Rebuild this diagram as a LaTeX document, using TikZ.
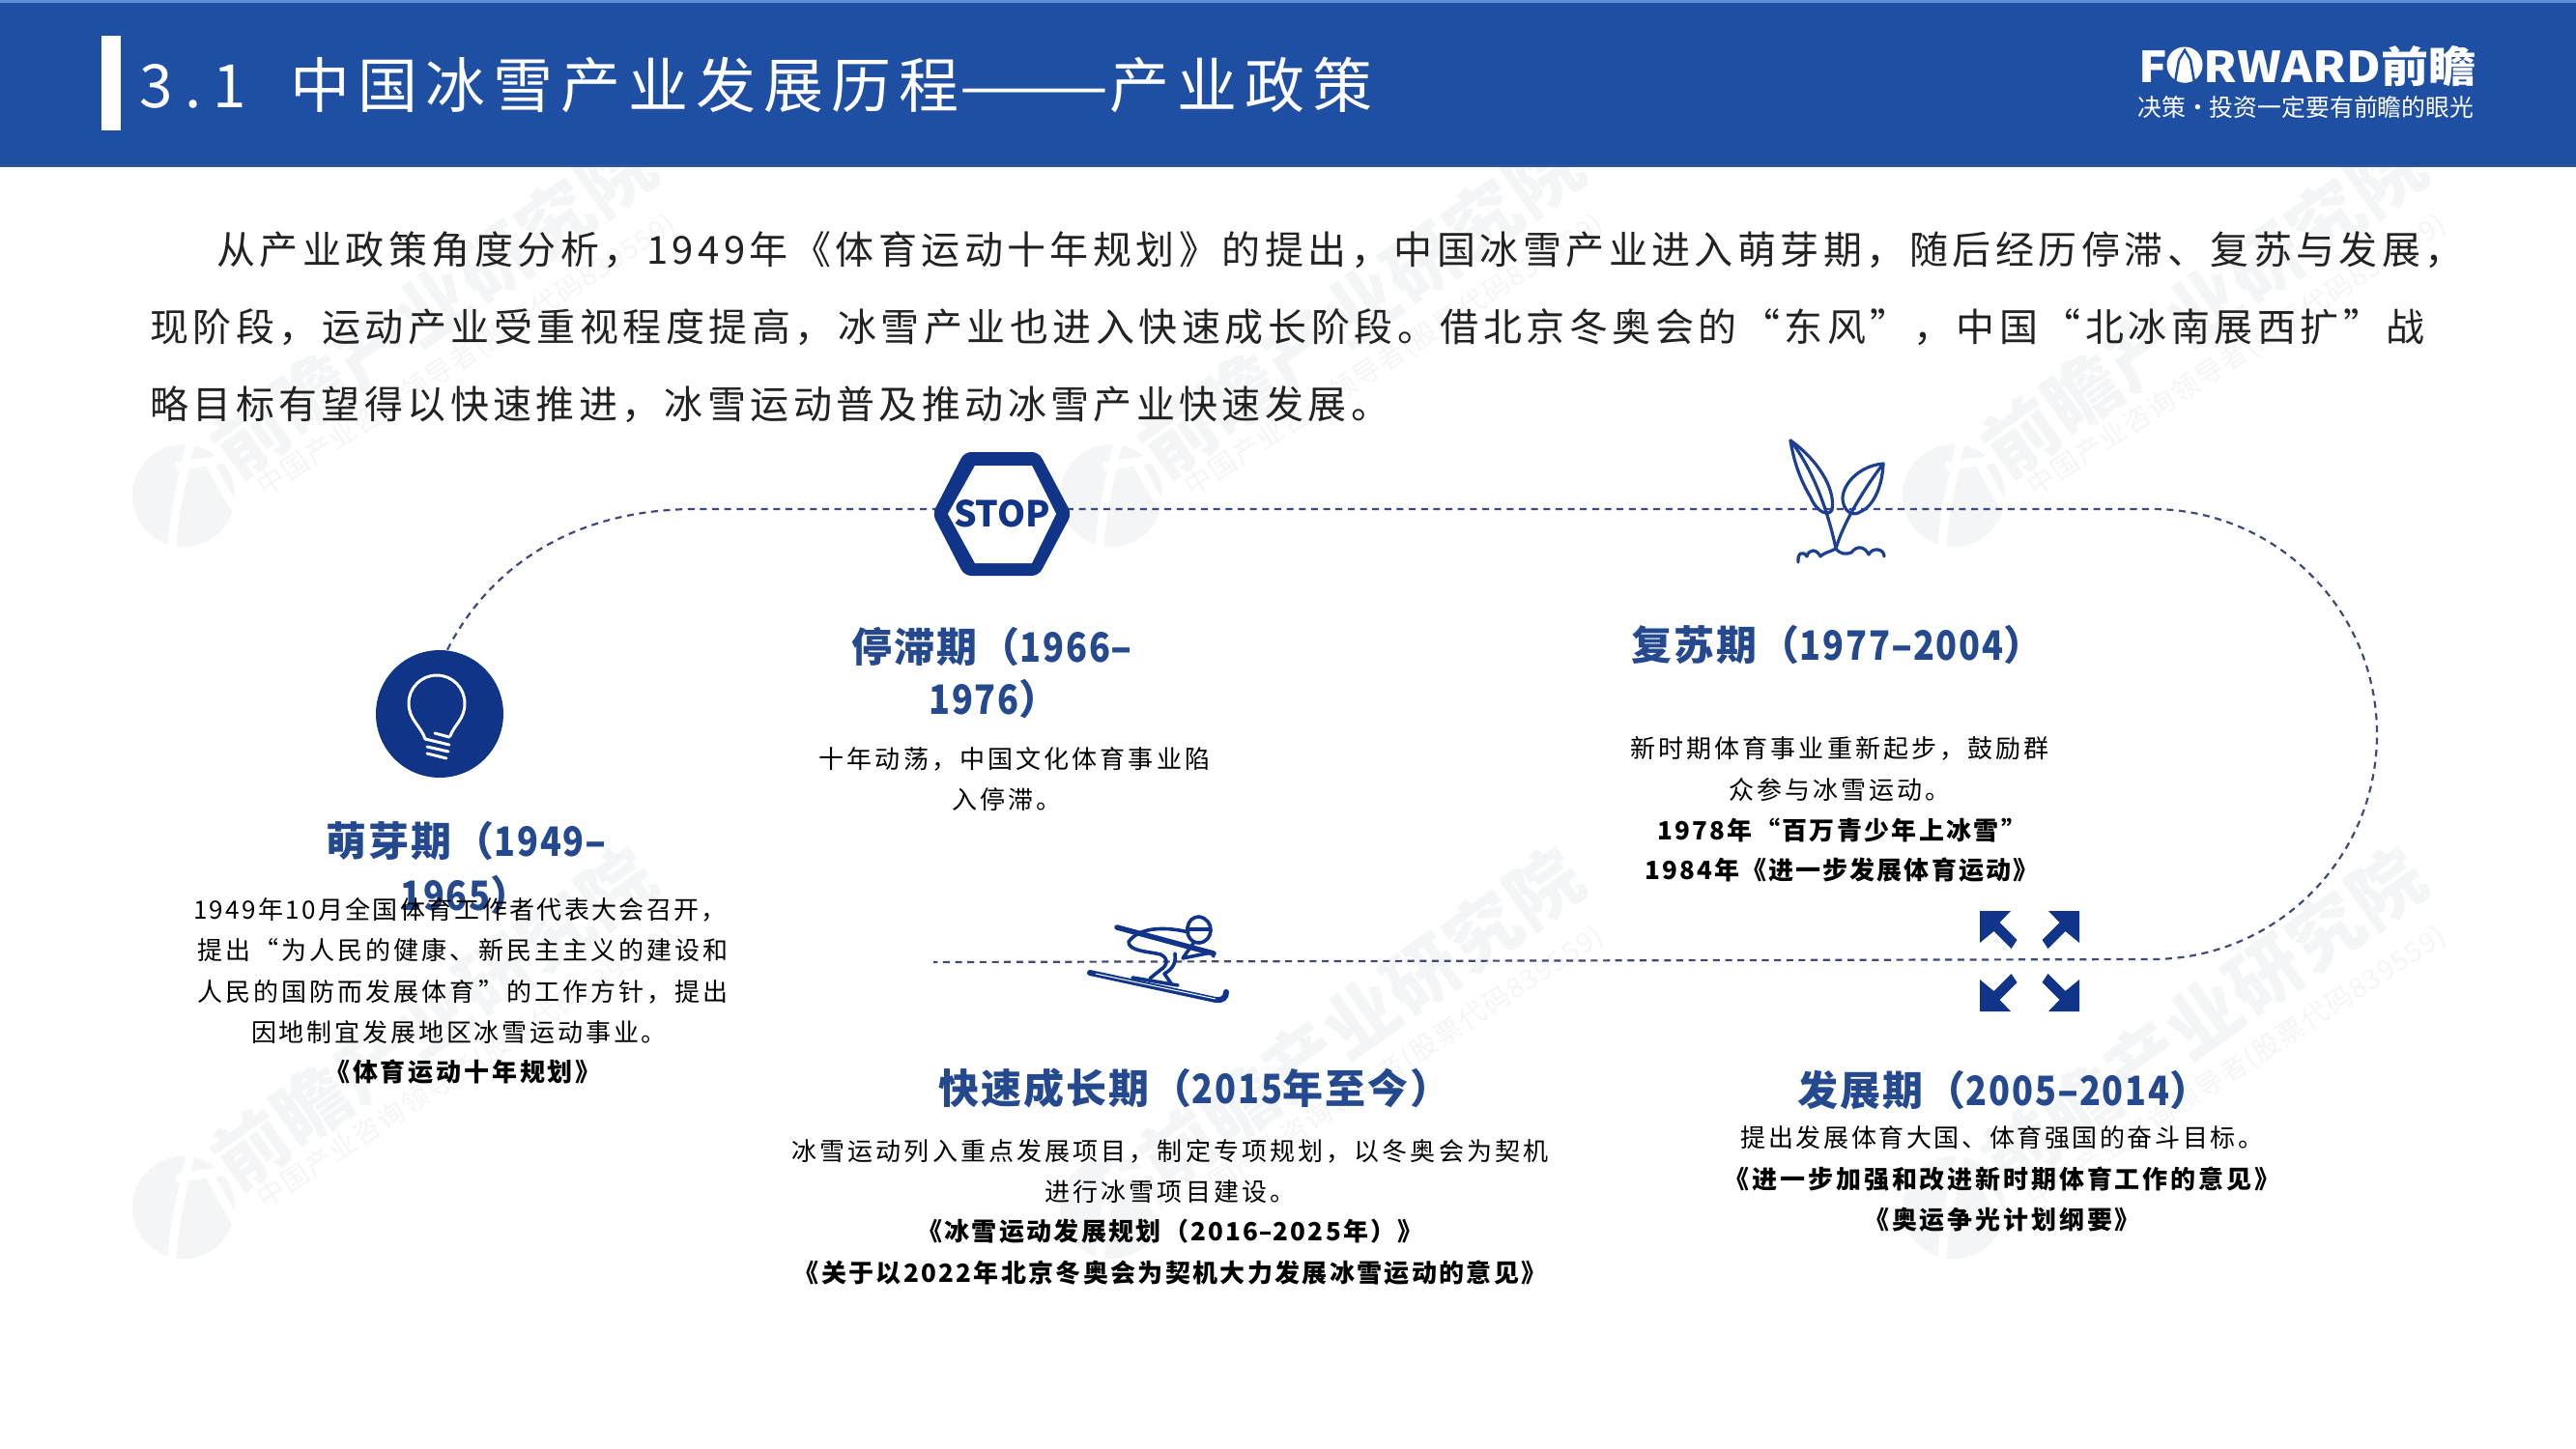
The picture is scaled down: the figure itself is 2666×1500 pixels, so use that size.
\documentclass[tikz,border=0pt]{standalone}
\usepackage{fontspec}
\usepackage{graphicx}
\setmainfont{Noto Sans CJK SC}
\newfontfamily\cj{Noto Sans CJK SC}
\usetikzlibrary{calc}
\definecolor{band}{HTML}{1E4FA3}
\definecolor{bandtop}{HTML}{5C8FD6}
\definecolor{bandbot}{HTML}{2A5694}
\definecolor{headc}{HTML}{24498F}
\definecolor{iconc}{HTML}{0F3488}
\definecolor{plantc}{HTML}{1D3F92}
\definecolor{dashc}{HTML}{3D4A7C}
\definecolor{wm}{HTML}{F4F5F7}
\definecolor{bodyc}{HTML}{222222}
\newcommand{\fc}{^^^^ff0c}
\newcommand{\lp}{^^^^ff08}
\newcommand{\rp}{^^^^ff09}
% font size in reference pixels (1px = 0.02cm = 0.56906pt)
\newcommand{\fpx}[2]{\fontsize{\dimexpr#1pt*569/1000\relax}{\dimexpr#1pt*569/1000\relax}\selectfont\addfontfeature{LetterSpace=#2}}
% \tl{name}{x}{y centre}{anchor}{size}{spacing}{colour+weight}{text}
\newcommand{\tl}[8]{\node[anchor=base #4,inner sep=0pt,text=#7] (#1) at (#2,{#3+0.38*#5}) {\fpx{#5}{#6}#8};}
\newcommand{\lh}{\scalebox{1.5}[1]{-}}
\newcommand{\dg}[1]{\scalebox{0.86}[1]{#1}}
\tikzset{
  dashline/.style={draw=dashc,line width=2.2*0.569pt,dash pattern=on 4pt off 3.2pt},
  plant/.style={draw=plantc,line width=3.2*0.569pt,line cap=round,line join=round},
  skistroke/.style={draw=iconc,line width=3.6*0.569pt,line cap=round,line join=round},
  bulbline/.style={draw=white,line width=3*0.569pt,line cap=round,line join=round}
}
\newcommand{\wmark}[3]{%
 \begin{scope}[shift={(#1,#2)}]
  \fill[wm] (0,0) circle[radius=53];
  \draw[white,line width=9*0.569pt] (8,-60) .. controls (0,-20) and (-12,20) .. (-12,60);
  \draw[white,line width=9*0.569pt] (-8,-30) -- (55,-40);
  \draw[white,line width=9*0.569pt] (25,-36) -- (60,25);
  \node[anchor=base west,inner sep=0pt,text=wm,rotate=35.5] (wma#3) at (55,-15) {\fpx{76}{2}\bfseries 前瞻产业研究院};
  \node[anchor=base west,inner sep=0pt,text=wm,rotate=33] (wmb#3) at (84,2) {\fpx{28}{6}中国产业咨询领导者(股票代码839559)};
 \end{scope}}
\begin{document}
\begin{tikzpicture}[x=0.02cm,y=-0.02cm]
\useasboundingbox (0,0) rectangle (2666,1500);
\fill[white] (0,0) rectangle (2666,1500);
% watermarks
\wmark{190}{513}{a}
\wmark{1150}{513}{b}
\wmark{2022}{513}{c}
\wmark{190}{1250}{d}
\wmark{1150}{1250}{e}
\wmark{2022}{1250}{f}
% header
\fill[band] (0,0) rectangle (2666,173);
\fill[bandtop] (0,0) rectangle (2666,3);
\fill[bandbot] (0,170) rectangle (2666,173);
\fill[white] (105,37) rectangle (125,135);
\tl{ttlnum}{144}{88}{west}{62}{20}{white}{3.1}
\tl{ttl}{300}{88}{west}{62}{13}{white}{中国冰雪产业发展历程\scalebox{1.5}[1]{——}产业政策}
\node[anchor=base west,inner sep=0pt,text=white] (logoa) at (2213,86) {\resizebox{349\dimexpr0.569pt\relax}{38\dimexpr0.569pt\relax}{\fpx{40}{0}\bfseries FORWARD前瞻}};
\fill[white] (2261,67) circle[radius=18.5];
\draw[band,line width=2.5*0.569pt] (2251,85) -- (2255,62) -- (2261,52) -- (2267,62) -- (2271,85);
\node[anchor=base west,inner sep=0pt,text=white] (logob) at (2212,121) {\resizebox{348\dimexpr0.569pt\relax}{!}{\fpx{24}{0}决策·投资一定要有前瞻的眼光}};
% body
\tl{ba}{224}{258}{west}{40}{11.2}{bodyc}{从产业政策角度分析\fc{}1949年《体育运动十年规划》的提出\fc{}中国冰雪产业进入萌芽期\fc{}随后经历停滞、复苏与发展\fc{}}
\tl{bb}{155}{338}{west}{40}{11.3}{bodyc}{现阶段\fc{}运动产业受重视程度提高\fc{}冰雪产业也进入快速成长阶段。借北京冬奥会的“东风”\fc{}中国“北冰南展西扩”战}
\tl{bc}{155}{418}{west}{40}{11}{bodyc}{略目标有望得以快速推进\fc{}冰雪运动普及推动冰雪产业快速发展。}
% bulb circle
\node[circle,fill=iconc,minimum size=2.64cm,inner sep=0pt] (bulb) at (455,739) {};
\coordinate (skiend) at (966,996);
\draw[dashline] (bulb.north) ++(8,0) .. controls (505,590) and (590,527) .. (720,527) -- (2227,527) arc[start angle=-90,end angle=90,radius=233] -- (skiend);
% bulb glyph
\draw[bulbline] (440,765) .. controls (436,752) and (423,745) .. (423,728) arc[start angle=180,end angle=360,radius=29] .. controls (481,745) and (470,750) .. (466,762);
\draw[bulbline] (450,759) -- (465,763);
\draw[bulbline] (440,765) -- (465,771);
\draw[bulbline] (442,773) -- (464,778);
\draw[bulbline] (442,780) -- (462,785);
% stop sign
\fill[iconc,rounded corners=4pt] (998,468) -- (1075,468) -- (1109,532) -- (1075,596) -- (998,596) -- (965,532) -- cycle;
\fill[white] (1009,482) -- (1068,482) -- (1093,532) -- (1068,583) -- (1009,583) -- (981,532) -- cycle;
\node[inner sep=0pt,text=iconc] (stoptxt) at (1037,532) {\resizebox{100\dimexpr0.569pt\relax}{28\dimexpr0.569pt\relax}{\fpx{38}{0}\bfseries STOP}};
% plant
\draw[plant] (1853,456) .. controls (1880,475) and (1900,505) .. (1896,528) .. controls (1892,535) and (1880,530) .. (1874,515) .. controls (1862,495) and (1856,475) .. (1853,456) -- cycle;
\draw[plant] (1853,456) .. controls (1872,480) and (1890,520) .. (1900,568);
\draw[plant] (1949,480) .. controls (1925,482) and (1908,500) .. (1907,515) .. controls (1907,530) and (1918,535) .. (1925,530) .. controls (1938,525) and (1948,505) .. (1949,480) -- cycle;
\draw[plant] (1949,480) .. controls (1930,505) and (1908,540) .. (1900,568);
\draw[plant] (1861,582) .. controls (1860,572) and (1866,570) .. (1870,576) .. controls (1872,568) and (1880,568) .. (1884,576) .. controls (1888,572) and (1892,572) .. (1900,568) .. controls (1905,574) and (1910,574) .. (1916,572) .. controls (1922,564) and (1930,566) .. (1934,574) .. controls (1938,566) and (1950,568) .. (1950,576);
% skier
\draw[iconc,line width=5.5*0.569pt,line cap=round] (1156,960) -- (1256,987);
\draw[skistroke,fill=white] (1241,949) .. controls (1258,952) and (1256,975) .. (1241,976) .. controls (1232,976) and (1228,968) .. (1229,960) .. controls (1230,953) and (1235,949) .. (1241,949) -- cycle;
\draw[skistroke] (1230,962) -- (1252,962);
\draw[skistroke] (1230,965) .. controls (1210,960) and (1180,958) .. (1168,975) .. controls (1168,985) and (1190,985) .. (1201,988) .. controls (1210,992) and (1208,1000) .. (1201,1004) -- (1190,1013);
\draw[skistroke] (1216,987) .. controls (1218,1000) and (1210,1005) .. (1205,1008) -- (1212,1018);
\draw[skistroke] (1236,975) -- (1224,992) -- (1254,986) -- (1256,990);
\draw[skistroke] (1172,1012) -- (1219,1020);
\draw[iconc,line width=6*0.569pt,line cap=round] (1128,1007) -- (1258,1035) .. controls (1265,1036) and (1269,1033) .. (1269,1027);
\draw[white,line width=1*0.569pt] (1134,1008) -- (1258,1034);
% arrows
\begin{scope}[shift={(2100.5,995)}]
\foreach \sx/\sy in {1/1,-1/1,1/-1,-1/-1}{
 \fill[iconc,xscale=\sx,yscale=\sy] (-51.5,-52) -- (-19.5,-52) -- (-31,-40) -- (-13,-22) -- (-19,-13) -- (-37,-31) -- (-51.5,-19) -- cycle;
}
\end{scope}
% headings
\tl{ha}{337}{871}{west}{42}{5}{headc}{\bfseries 萌芽期\lp\dg{1949}\lh}
\tl{hab}{482}{927}{}{42}{5}{headc}{\bfseries \dg{1965}\rp}
\tl{hb}{881}{670}{west}{42}{5}{headc}{\bfseries 停滞期\lp\dg{1966}\lh}
\tl{hbb}{1029}{724}{}{42}{5}{headc}{\bfseries \dg{1976}\rp}
\tl{hc}{1688}{668}{west}{42}{5}{headc}{\bfseries 复苏期\lp\dg{1977}\lh\dg{2004}\rp}
\tl{hd}{971}{1127}{west}{42}{5}{headc}{\bfseries 快速成长期\lp\dg{2015}年至今\rp}
\tl{he}{1860}{1129}{west}{42}{5}{headc}{\bfseries 发展期\lp\dg{2005}\lh\dg{2014}\rp}
% details
\tl{da}{476}{942}{}{26}{9}{black}{1949年10月全国体育工作者代表大会召开\fc{}}
\tl{db}{479}{984}{}{26}{12}{black}{提出“为人民的健康、新民主主义的建设和}
\tl{dc}{479}{1027}{}{26}{12}{black}{人民的国防而发展体育”的工作方针\fc{}提出}
\tl{dd}{475}{1069}{}{26}{11}{black}{因地制宜发展地区冰雪运动事业。}
\tl{de}{479}{1110}{}{26}{11}{black}{\bfseries《体育运动十年规划》}
\tl{ea}{1050}{786}{}{26}{12}{black}{十年动荡\fc{}中国文化体育事业陷}
\tl{eb}{1042}{828}{}{26}{12}{black}{入停滞。}
\tl{fa}{1904}{775}{}{26}{12}{black}{新时期体育事业重新起步\fc{}鼓励群}
\tl{fb}{1904}{818}{}{26}{12}{black}{众参与冰雪运动。}
\tl{fc}{1906}{860}{}{26}{9}{black}{\bfseries 1978年“百万青少年上冰雪”}
\tl{fd}{1906}{901}{}{26}{8}{black}{\bfseries 1984年《进一步发展体育运动》}
\tl{ga}{1211}{1192}{}{26}{12}{black}{冰雪运动列入重点发展项目\fc{}制定专项规划\fc{}以冬奥会为契机}
\tl{gb}{1211}{1234}{}{26}{12}{black}{进行冰雪项目建设。}
\tl{gc}{1211}{1275}{}{26}{9}{black}{\bfseries《冰雪运动发展规划\lp 2016\lh 2025年\rp》}
\tl{gd}{1211}{1318}{}{26}{9}{black}{\bfseries《关于以2022年北京冬奥会为契机大力发展冰雪运动的意见》}
\tl{ia}{2072}{1178}{}{26}{10}{black}{提出发展体育大国、体育强国的奋斗目标。}
\tl{ib}{2072}{1221}{}{26}{11}{black}{\bfseries《进一步加强和改进新时期体育工作的意见》}
\tl{ic}{2072}{1263}{}{26}{11}{black}{\bfseries《奥运争光计划纲要》}
\end{tikzpicture}
\end{document}
